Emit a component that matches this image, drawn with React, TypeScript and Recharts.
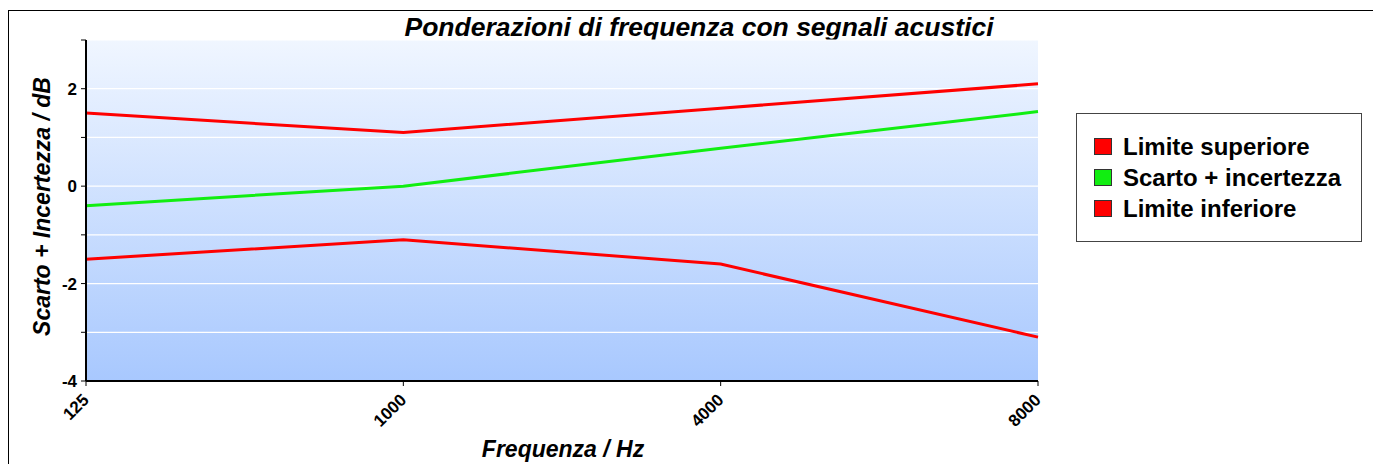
import React from 'react';
import { LineChart, Line, XAxis, YAxis, CartesianGrid, Label } from 'recharts';

if (typeof document !== 'undefined') {
  document.body.style.margin = '0';
  document.body.style.overflow = 'hidden';
}

const frequencies = ['125', '1000', '4000', '8000'];
const limiteSuperiore = [1.5, 1.1, 1.6, 2.1];
const scartoIncertezza = [-0.4, 0, 0.78, 1.53];
const limiteInferiore = [-1.5, -1.1, -1.6, -3.1];
const yTicks = [-4, -3, -2, -1, 0, 1, 2, 3];
const yLabeledTicks = [-4, -2, 0, 2];
const seriesKeys = ['sup', 'scarto', 'inf'];
const seriesNames = ['Limite superiore', 'Scarto + incertezza', 'Limite inferiore'];
const seriesColors = ['#ff0000', '#11ee11', '#ff0000'];

const data = frequencies.map((f, i) => ({
  freq: f,
  sup: limiteSuperiore[i],
  scarto: scartoIncertezza[i],
  inf: limiteInferiore[i],
}));

const FONT = '"Liberation Sans", Arial, Helvetica, sans-serif';

const YTick = (props: any) => {
  const { x, y, payload } = props;
  if (!yLabeledTicks.includes(payload.value)) return null;
  return (
    <text x={x} y={y} dy={6} textAnchor="end" fontFamily={FONT} fontWeight="bold" fontSize={17} fill="#000">
      {payload.value}
    </text>
  );
};

const XTick = (props: any) => {
  const { x, y, payload } = props;
  const tx = x + 4;
  const ty = y + 13;
  return (
    <text
      x={tx}
      y={ty}
      textAnchor="end"
      transform={`rotate(-45, ${tx}, ${ty})`}
      fontFamily={FONT}
      fontWeight="bold"
      fontSize={17}
      fill="#000"
    >
      {payload.value}
    </text>
  );
};

const LegendBox = () => (
  <div
    style={{
      position: 'absolute',
      left: 1076,
      top: 113,
      boxSizing: 'border-box',
      width: 286,
      height: 129,
      border: '1.5px solid #444',
      background: '#fff',
      paddingTop: 17,
      paddingLeft: 17,
      fontFamily: FONT,
    }}
  >
    {seriesNames.map((name, i) => (
      <div key={i} style={{ display: 'flex', alignItems: 'center', height: 31 }}>
        <span
          style={{
            display: 'inline-block',
            boxSizing: 'border-box',
            width: 18,
            height: 17,
            background: seriesColors[i],
            border: '1px solid #333',
            marginRight: 11,
            flex: 'none',
          }}
        />
        <span style={{ fontSize: 24, fontWeight: 'bold', color: '#000', whiteSpace: 'nowrap' }}>{name}</span>
      </div>
    ))}
  </div>
);

export default function App() {
  return (
    <div style={{ position: 'relative', width: 1373, height: 464, overflow: 'hidden', background: '#fff' }}>
      <div
        style={{
          position: 'absolute',
          left: 8,
          top: 10,
          right: 0,
          bottom: 0,
          borderLeft: '1.5px solid #000',
          borderTop: '1.5px solid #000',
        }}
      />
      <div
        style={{
          position: 'absolute',
          left: 199,
          top: 14,
          width: 1000,
          textAlign: 'center',
          fontFamily: FONT,
          fontSize: 26.5,
          lineHeight: '26px',
          fontWeight: 'bold',
          fontStyle: 'italic',
          color: '#000',
          whiteSpace: 'nowrap',
        }}
      >
        Ponderazioni di frequenza con segnali acustici
      </div>
      <div style={{ position: 'absolute', left: 0, top: 0 }}>
        <LineChart width={1373} height={464} data={data} margin={{ top: 40, right: 335, bottom: 0, left: 0 }}>
          <defs>
            <linearGradient id="bgGrad" x1="0" y1="0" x2="0" y2="1">
              <stop offset="0%" stopColor="#f0f6ff" />
              <stop offset="100%" stopColor="#a8c8fe" />
            </linearGradient>
          </defs>
          <CartesianGrid vertical={false} stroke="#ffffff" strokeWidth={1.2} fill="url(#bgGrad)" fillOpacity={1} />
          <XAxis
            dataKey="freq"
            scale="point"
            padding={{ left: 0, right: 0 }}
            interval={0}
            height={83}
            tickSize={5}
            tickMargin={2}
            axisLine={{ stroke: '#000', strokeWidth: 2 }}
            tickLine={{ stroke: '#000', strokeWidth: 1 }}
            tick={<XTick />}
          >
            <Label
              content={(p: any) => {
                const vb = p.viewBox || {};
                return (
                  <text
                    x={vb.x + vb.width / 2 + 1}
                    y={vb.y + 76}
                    textAnchor="middle"
                    fontFamily={FONT}
                    fontWeight="bold"
                    fontStyle="italic"
                    fontSize={23}
                    fill="#000"
                  >
                    Frequenza / Hz
                  </text>
                );
              }}
            />
          </XAxis>
          <YAxis
            domain={[-4, 3]}
            ticks={yTicks}
            interval={0}
            width={86}
            tickSize={5}
            tickMargin={4}
            axisLine={{ stroke: '#000', strokeWidth: 2 }}
            tickLine={{ stroke: '#000', strokeWidth: 1 }}
            tick={<YTick />}
          >
            <Label
              content={(p: any) => {
                const vb = p.viewBox || {};
                const cx = 42;
                const cy = vb.y + vb.height / 2 - 4;
                return (
                  <text
                    x={cx}
                    y={cy}
                    textAnchor="middle"
                    dominantBaseline="central"
                    transform={`rotate(-90, ${cx}, ${cy})`}
                    fontFamily={FONT}
                    fontWeight="bold"
                    fontStyle="italic"
                    fontSize={23}
                    fill="#000"
                  >
                    Scarto + Incertezza / dB
                  </text>
                );
              }}
            />
          </YAxis>
          {seriesKeys.map((k, i) => (
            <Line
              key={k}
              type="linear"
              dataKey={k}
              name={seriesNames[i]}
              stroke={seriesColors[i]}
              strokeWidth={3}
              dot={false}
              isAnimationActive={false}
            />
          ))}
        </LineChart>
      </div>
      <LegendBox />
    </div>
  );
}
